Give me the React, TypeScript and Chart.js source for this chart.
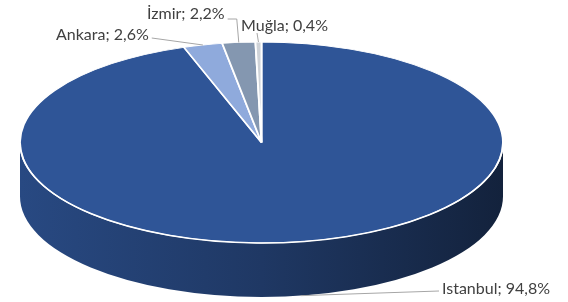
import React, { useEffect, useRef } from 'react';
import { Chart, registerables } from 'chart.js';

Chart.register(...registerables);

// ---- data ----
const categories = ['Istanbul', 'Ankara', 'İzmir', 'Muğla'];
const shares = [94.8, 2.6, 2.2, 0.4];
const sliceColors = ['#2F5597', '#8FAADC', '#8497B0', '#CFD3D8'];

// ---- style / layout ----
const DEPTH = 54;
const LABEL_FONT = '16px Lato';
const LABEL_COLOR = '#404040';
const LEADER_COLOR = '#A6A6A6';
// baseline-left text positions of the data labels, and how leader lines attach
const LABEL_LAYOUT = [
  { x: 442, y: 294, attach: 'left', dy: -3, elbow: false },
  { x: 56, y: 40, attach: 'right', dy: -2, elbow: false },
  { x: 147, y: 19, attach: 'right', dy: 0, elbow: true },
  { x: 241, y: 31, attach: 'below', dy: 2, elbow: false },
];

function hexToRgb(hex: string) {
  const n = parseInt(hex.slice(1), 16);
  return [(n >> 16) & 255, (n >> 8) & 255, n & 255];
}
function shade(hex: string, f: number) {
  const [r, g, b] = hexToRgb(hex);
  return `rgb(${Math.round(r * f)},${Math.round(g * f)},${Math.round(b * f)})`;
}

function geom(chart: any) {
  const a = chart.chartArea;
  const rx = (a.right - a.left) / 2;
  const ry = (a.bottom - a.top - DEPTH) / 2;
  return { cx: a.left + rx, cy: a.top + ry, rx, ry };
}

function fmt(v: number) {
  return v.toFixed(1).replace('.', ',') + '%';
}

const pie3dPlugin = {
  id: 'pie3d',
  beforeDatasetsDraw(chart: any) {
    const ctx: CanvasRenderingContext2D = chart.ctx;
    const g = geom(chart);
    const arcs = chart.getDatasetMeta(0).data as any[];
    ctx.save();
    // extruded sides (front half only is visible)
    arcs.forEach((arc, i) => {
      const { startAngle, endAngle } = arc.getProps(['startAngle', 'endAngle'], true);
      for (const k of [-2 * Math.PI, 0, 2 * Math.PI]) {
        const a0 = Math.max(startAngle + k, 0);
        const a1 = Math.min(endAngle + k, Math.PI);
        if (a1 <= a0) continue;
        const c = sliceColors[i % sliceColors.length];
        const grad = ctx.createLinearGradient(g.cx - g.rx, 0, g.cx + g.rx, 0);
        grad.addColorStop(0, shade(c, 0.86));
        grad.addColorStop(0.5, shade(c, 0.66));
        grad.addColorStop(1, shade(c, 0.4));
        ctx.beginPath();
        ctx.ellipse(g.cx, g.cy, g.rx, g.ry, 0, a0, a1, false);
        ctx.lineTo(g.cx + g.rx * Math.cos(a1), g.cy + g.ry * Math.sin(a1) + DEPTH);
        ctx.ellipse(g.cx, g.cy + DEPTH, g.rx, g.ry, 0, a1, a0, true);
        ctx.closePath();
        ctx.fillStyle = grad;
        ctx.fill();
      }
    });
    // map the library's circle onto the tilted ellipse
    const first = arcs[0];
    const R = first.outerRadius;
    ctx.translate(g.cx, g.cy);
    ctx.scale(g.rx / R, g.ry / R);
    ctx.translate(-first.x, -first.y);
  },
  afterDatasetsDraw(chart: any) {
    const ctx: CanvasRenderingContext2D = chart.ctx;
    ctx.restore();
    const g = geom(chart);
    const arcs = chart.getDatasetMeta(0).data as any[];

    // white rim along the front edge of the top face
    ctx.save();
    ctx.beginPath();
    ctx.ellipse(g.cx, g.cy, g.rx, g.ry, 0, 0.02, Math.PI - 0.02, false);
    ctx.strokeStyle = '#FFFFFF';
    ctx.lineWidth = 1.5;
    ctx.stroke();
    ctx.restore();

    // data labels with leader lines
    ctx.save();
    ctx.font = LABEL_FONT;
    ctx.textBaseline = 'alphabetic';
    ctx.textAlign = 'left';
    arcs.forEach((arc, i) => {
      const lay = LABEL_LAYOUT[i];
      if (!lay) return;
      const { startAngle, endAngle } = arc.getProps(['startAngle', 'endAngle'], true);
      let mid = (startAngle + endAngle) / 2;
      const m = ((mid % (2 * Math.PI)) + 2 * Math.PI) % (2 * Math.PI);
      const front = m > 0 && m < Math.PI;
      const ax = g.cx + g.rx * Math.cos(mid);
      const ay = g.cy + g.ry * Math.sin(mid) + (front ? DEPTH : 0);
      const text = `${categories[i]}; ${fmt(shares[i])}`;
      const w = ctx.measureText(text).width;
      let sx = lay.x, sy = lay.y + lay.dy;
      if (lay.attach === 'right') sx = lay.x + w + 3;
      else if (lay.attach === 'left') sx = lay.x - 3;
      else sx = lay.x + 16;
      ctx.beginPath();
      ctx.moveTo(sx, sy);
      if (lay.elbow) ctx.lineTo(ax - 2, sy);
      ctx.lineTo(ax, ay);
      ctx.strokeStyle = LEADER_COLOR;
      ctx.lineWidth = 1;
      ctx.stroke();
      ctx.fillStyle = LABEL_COLOR;
      ctx.fillText(text, lay.x, lay.y);
    });
    ctx.restore();
  },
};

export default function App() {
  const ref = useRef<HTMLCanvasElement>(null);
  useEffect(() => {
    if (!ref.current) return;
    const chart = new Chart(ref.current, {
      type: 'pie',
      data: {
        labels: categories,
        datasets: [
          {
            data: shares,
            backgroundColor: sliceColors,
            borderColor: '#FFFFFF',
            borderWidth: 1,
            clip: false as any,
          },
        ],
      },
      options: {
        animation: false,
        responsive: false,
        events: [],
        layout: { padding: { left: 20, right: 65, top: 42, bottom: 5 } },
        plugins: { legend: { display: false }, tooltip: { enabled: false } },
      },
      plugins: [pie3dPlugin as any],
    });
    return () => chart.destroy();
  }, []);
  return (
    <div style={{ position: 'absolute', left: 0, top: 0, width: 568, height: 302, background: '#fff' }}>
      <canvas ref={ref} width={568} height={302} style={{ display: 'block' }} />
    </div>
  );
}
